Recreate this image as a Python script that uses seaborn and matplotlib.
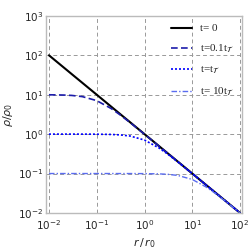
import matplotlib
matplotlib.use("Agg")
import matplotlib.pyplot as plt
from matplotlib.font_manager import FontProperties
import seaborn as sns
import pandas as pd

# radius r/r0 and density rho/rho0
r = [0.01, 0.02, 0.03, 0.05, 0.1, 0.2, 0.3, 0.5, 1, 2, 3, 5, 10, 20, 30, 50, 100]
rho_t0 = [100, 50, 33.3, 20, 10, 5, 3.33, 2, 1, 0.5, 0.333, 0.2, 0.1, 0.05, 0.0333, 0.02, 0.01]
rho_t01 = [9.95, 9.81, 9.58, 8.94, 7.07, 4.47, 3.16, 1.96, 0.995, 0.499, 0.333, 0.2, 0.1, 0.05, 0.0333, 0.02, 0.01]
rho_t1 = [1.0, 1.0, 1.0, 0.999, 0.995, 0.981, 0.958, 0.894, 0.707, 0.447, 0.316, 0.196, 0.0995, 0.0499, 0.0333, 0.02, 0.01]
rho_t10 = [0.1, 0.1, 0.1, 0.1, 0.1, 0.1, 0.0999, 0.0999, 0.0995, 0.098, 0.0958, 0.0894, 0.0707, 0.0447, 0.0316, 0.0196, 0.00995]

labels = ["t= 0", r"t=0.1t$_{\mathcal{T}}$", r"t=t$_{\mathcal{T}}$", r"t= 10t$_{\mathcal{T}}$"]
colors = ["black", "#1c1caa", "#0000ff", "#5a6cf0"]
styles = ["-", (0, (4, 2)), (0, (1.2, 1.2)), (0, (4, 1.5, 1, 1.5))]
widths = [1.5, 1.2, 1.2, 1.0]

sns.set_style("white")
plt.rcParams["mathtext.fontset"] = "dejavusans"

fig = plt.figure(figsize=(2.49, 2.52), dpi=100)
ax = fig.add_axes([0.185, 0.155, 0.787, 0.782])

for vals, lab, c, ls, lw in zip([rho_t0, rho_t01, rho_t1, rho_t10], labels, colors, styles, widths):
    df = pd.DataFrame({"r": r, "rho": vals})
    sns.lineplot(data=df, x="r", y="rho", ax=ax, color=c, linestyle=ls, linewidth=lw, label=lab)

ax.set_xscale("log")
ax.set_yscale("log")
ax.set_xlim(0.0087, 110)
ax.set_ylim(1e-2, 1e3)
ax.set_xticks([1e-2, 1e-1, 1e0, 1e1, 1e2])
ax.set_yticks([1e-2, 1e-1, 1e0, 1e1, 1e2, 1e3])
ax.minorticks_off()
ax.grid(True, color="#999999", linestyle=(0, (4, 3)), linewidth=0.7)
for s in ax.spines.values():
    s.set_color("#bbbbbb")
    s.set_linewidth(1.0)
ax.tick_params(labelsize=7.5, length=0)
ax.tick_params(axis="x", pad=4)
ax.tick_params(axis="y", pad=2)
ax.set_xlabel(r"$r\,/\,r_0$", fontsize=8, labelpad=3)
ax.set_ylabel(r"$\rho/\rho_0$", fontsize=8, labelpad=2)

leg_font = FontProperties(family="Liberation Serif", size=8, math_fontfamily="stix")
leg = ax.legend(loc="upper right", bbox_to_anchor=(1.0, 1.0), frameon=False,
                labelspacing=0.85, handlelength=1.9, handletextpad=0.7,
                borderaxespad=0.3, prop=leg_font)
fig.savefig("out.png", dpi=100)
